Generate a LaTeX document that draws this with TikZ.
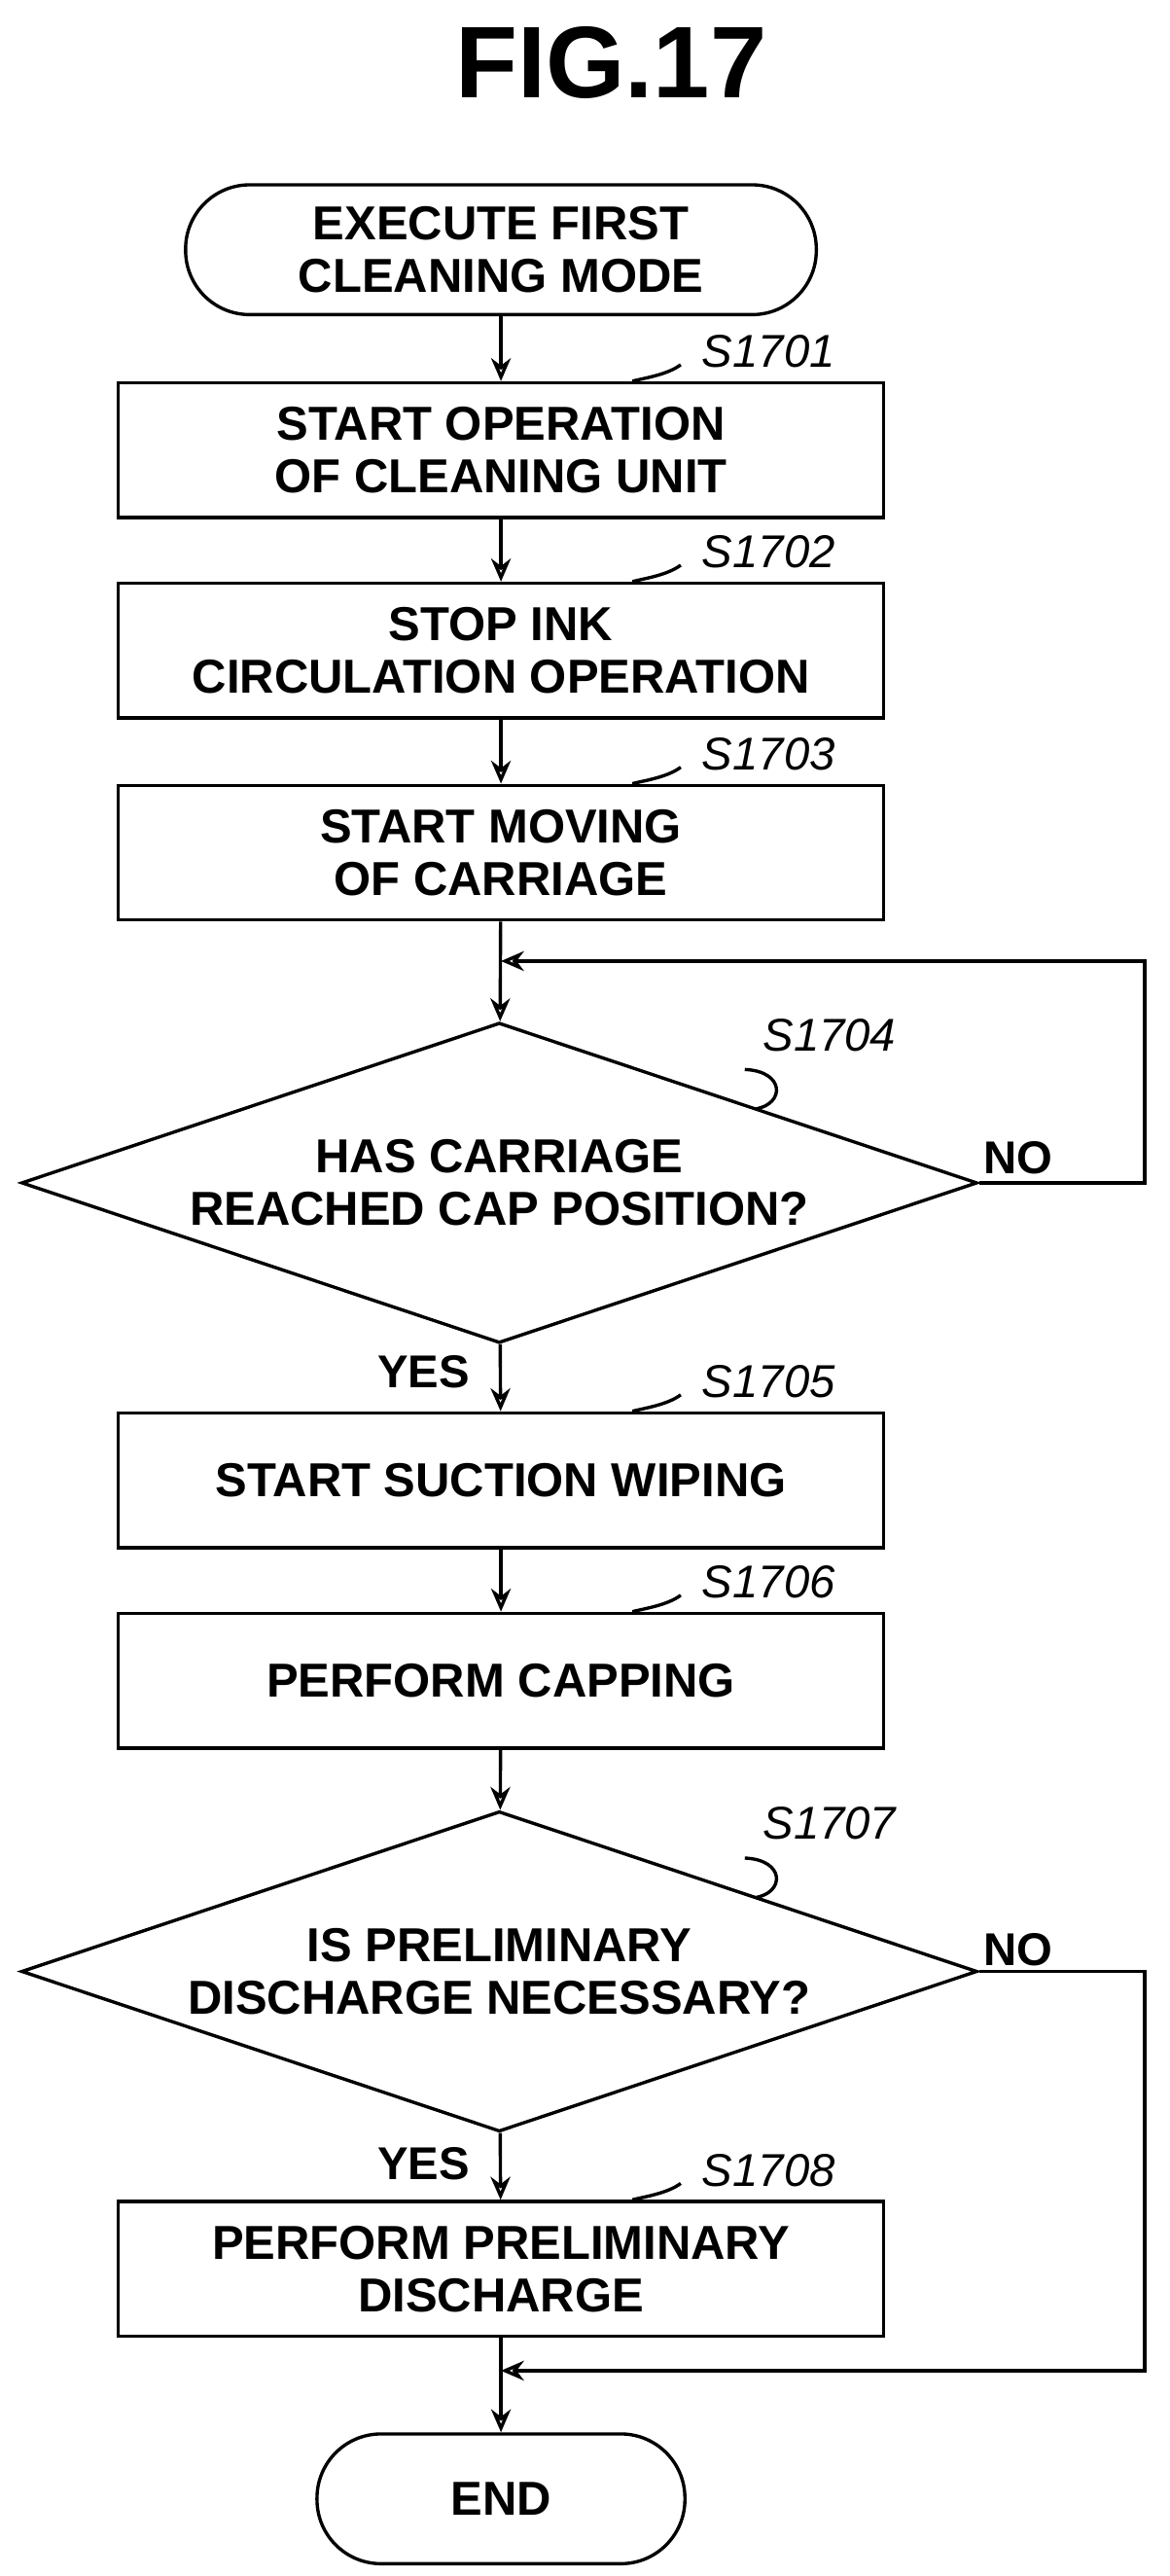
\documentclass[tikz,border=0pt]{standalone}
\usepackage{fontspec}
\setmainfont{Liberation Sans}
\usetikzlibrary{shapes.geometric,arrows.meta}
\begin{document}
\begin{tikzpicture}[x=0.5pt,y=-0.5pt,
 box/.style={draw,line width=1pt,minimum width=233pt,minimum height=41pt,inner sep=0,align=center,font=\bfseries\fontsize{14.5}{16}\selectfont},
 term/.style={box,rounded corners=19.5pt,minimum height=39.5pt},
 dia/.style={draw,line width=1pt,diamond,aspect=2.98,minimum width=291pt,minimum height=97.5pt,inner sep=0,align=center,font=\bfseries\fontsize{14.5}{16}\selectfont},
 lab/.style={font=\itshape\fontsize{14}{16}\selectfont},
 yn/.style={font=\bfseries\fontsize{14}{16}\selectfont},
 arr/.style={line width=1pt,-{Stealth[length=7pt,width=6pt,open]}},
 ln/.style={line width=1pt}]
\useasboundingbox (0,0) rectangle (712,1568);
\node[font=\bfseries\fontsize{31}{34}\selectfont] (title) at (372,38) {FIG.17};
\node[term,minimum width=192pt] (st) at (305,152) {EXECUTE FIRST\\CLEANING MODE};
\node[box] (b1) at (305,274) {START OPERATION\\OF CLEANING UNIT};
\node[box] (b2) at (305,396) {STOP INK\\CIRCULATION OPERATION};
\node[box] (b3) at (305,519) {START MOVING\\OF CARRIAGE};
\node[dia] (d1) at (304,720) {HAS CARRIAGE\\REACHED CAP POSITION?};
\node[box] (b5) at (305,901) {START SUCTION WIPING};
\node[box] (b6) at (305,1023) {PERFORM CAPPING};
\node[dia] (d2) at (304,1200) {IS PRELIMINARY\\DISCHARGE NECESSARY?};
\node[box] (b8) at (305,1381) {PERFORM PRELIMINARY\\DISCHARGE};
\node[term,minimum width=112pt] (en) at (305,1521) {END};
\coordinate (m1) at (305,585);
\coordinate (r1) at (697,720);
\coordinate (r1t) at (697,585);
\coordinate (m2) at (305,1443);
\coordinate (r2) at (697,1200);
\coordinate (r2b) at (697,1443);
\coordinate (e1) at (460,675);
\coordinate (e2) at (460,1155);
\draw[arr] (st) -- (b1);
\draw[arr] (b1) -- (b2);
\draw[arr] (b2) -- (b3);
\draw[arr] (b3) -- (d1);
\draw[arr] (d1) -- (b5);
\draw[arr] (b5) -- (b6);
\draw[arr] (b6) -- (d2);
\draw[arr] (d2) -- (b8);
\draw[arr] (b8) -- (en);
\draw[arr] (d1.east) -- (r1) -- (r1t) -- (m1);
\draw[arr] (d2.east) -- (r2) -- (r2b) -- (m2);
\node[yn] (n1) at (620,705) {NO};
\node[yn] (n2) at (620,1187) {NO};
\node[yn] (y1) at (258,835) {YES};
\node[yn] (y2) at (258,1317) {YES};
\node[lab] (l1) at (468,214) {S1701};
\node[lab] (l2) at (468,336) {S1702};
\node[lab] (l3) at (468,459) {S1703};
\node[lab] (l4) at (505,630) {S1704};
\node[lab] (l5) at (468,841) {S1705};
\node[lab] (l6) at (468,963) {S1706};
\node[lab] (l7) at (505,1110) {S1707};
\node[lab] (l8) at (468,1321) {S1708};
\foreach \b/\l in {b1/l1,b2/l2,b3/l3,b5/l5,b6/l6,b8/l8}{
 \draw[ln] ([xshift=40pt]\b.north) .. controls +(8,-2) and +(-8,6) .. ([xshift=-3pt,yshift=-4pt]\l.west);}
\draw[ln] (e1) .. controls (478,672) and (478,652) .. ([xshift=-2pt,yshift=-2pt]l4.south west);
\draw[ln] (e2) .. controls (478,1152) and (478,1132) .. ([xshift=-2pt,yshift=-2pt]l7.south west);
\end{tikzpicture}
\end{document}
